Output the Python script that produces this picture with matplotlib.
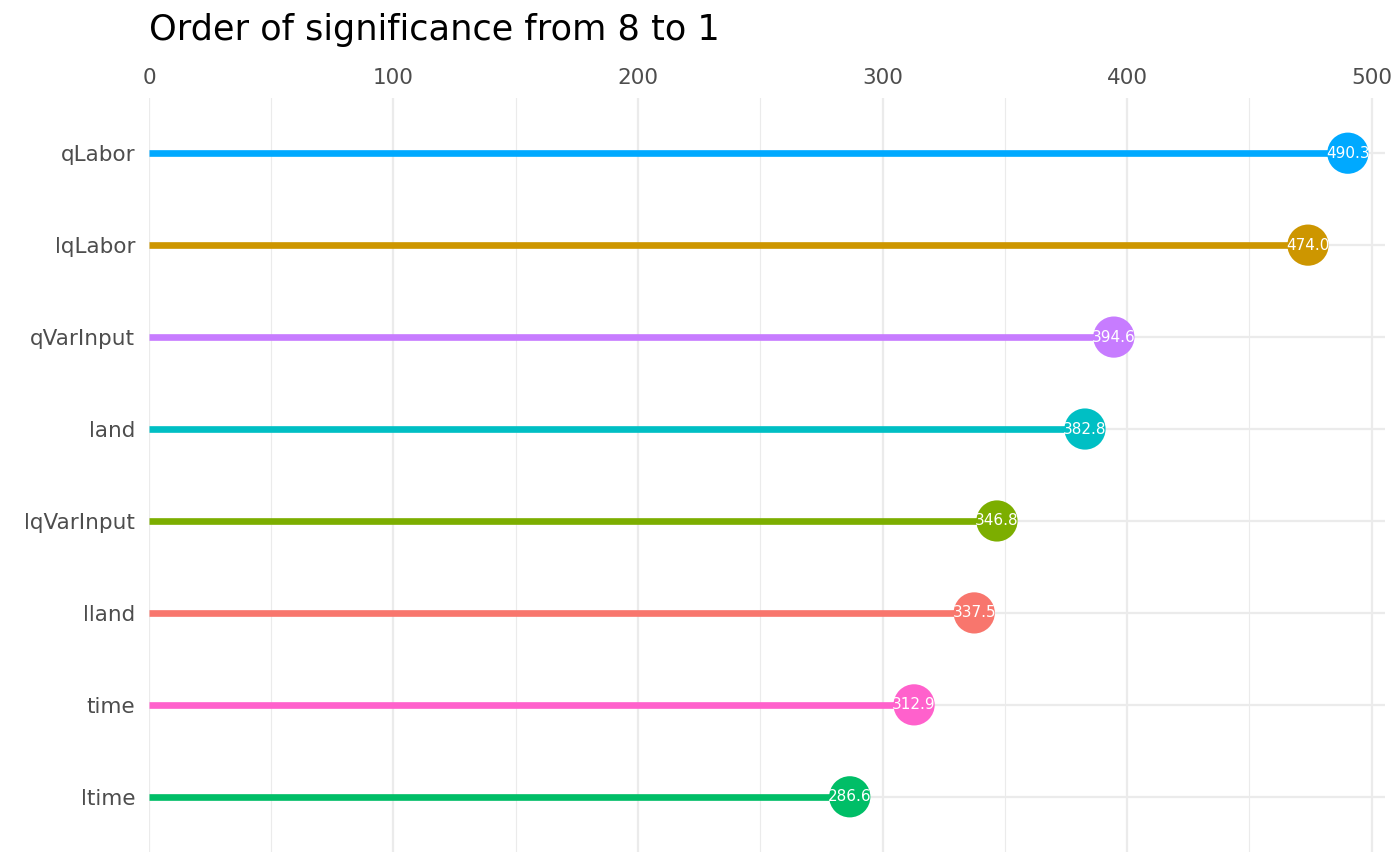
import matplotlib.pyplot as plt

# data, listed bottom to top
variables = ['ltime', 'time', 'lland', 'lqVarInput', 'land', 'qVarInput', 'lqLabor', 'qLabor']
values = [286.6, 312.9, 337.5, 346.8, 382.8, 394.6, 474.0, 490.3]
colors = ['#00BE67', '#FF61CC', '#F8766D', '#7CAE00', '#00BFC4', '#C77CFF', '#CD9600', '#00A9FF']

fig = plt.figure(figsize=(14, 8.66), dpi=100)
ax = fig.add_axes([0.1064, 0.0162, 0.8829, 0.8706])

ypos = list(range(1, len(variables) + 1))

ax.hlines(ypos, 0, values, colors=colors, linewidth=4.8, zorder=3)
ax.scatter(values, ypos, s=880, c=colors, zorder=4, linewidths=0)
for x, y, v in zip(values, ypos, values):
    ax.text(x, y, f'{v:.1f}', color='white', fontsize=11,
            ha='center', va='center', zorder=5)

ax.set_xlim(0, 505.5)
ax.set_ylim(0.4, 8.6)
ax.set_yticks(ypos)
ax.set_yticklabels(variables)
ax.set_xticks([0, 100, 200, 300, 400, 500])
ax.set_xticks([50, 150, 250, 350, 450], minor=True)

ax.xaxis.tick_top()
ax.tick_params(axis='both', which='both', length=0, labelsize=15.5, labelcolor='#4D4D4D')
ax.tick_params(axis='x', pad=7)
ax.tick_params(axis='y', pad=10)

ax.grid(True, which='major', color='#EBEBEB', linewidth=1.6, zorder=0)
ax.grid(True, which='minor', axis='x', color='#EBEBEB', linewidth=0.8, zorder=0)
ax.set_axisbelow(True)
for s in ax.spines.values():
    s.set_visible(False)

fig.text(0.1064, 0.965, 'Order of significance from 8 to 1', fontsize=25.3,
         ha='left', va='center', color='black')

fig.savefig('out.png', dpi=100)
